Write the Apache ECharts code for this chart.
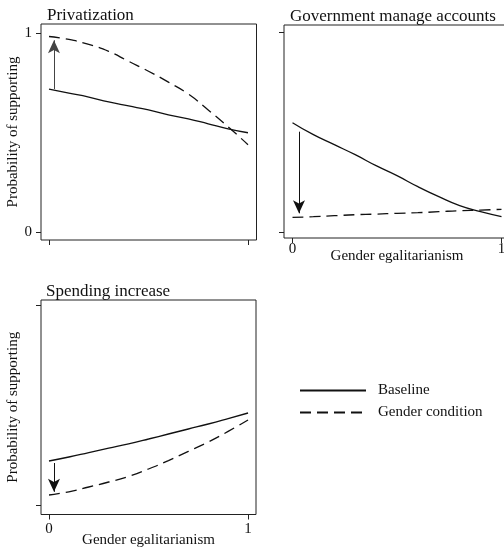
<!DOCTYPE html>
<html>
<head>
<meta charset="utf-8">
<script src="https://cdn.jsdelivr.net/npm/echarts@6/dist/echarts.min.js"></script>
<style>
html,body{margin:0;padding:0;background:#fff;}
#chart{width:504px;height:550px;}
</style>
</head>
<body>
<div id="chart"></div>
<script>
// ---- data ----
const xs = [0, 0.1, 0.2, 0.3, 0.4, 0.5, 0.6, 0.7, 0.8, 0.9, 1];
const panelTitles = ['Privatization', 'Government manage accounts', 'Spending increase'];
const seriesNames = ['Baseline', 'Gender condition'];
const privBase   = [0.72, 0.70, 0.68, 0.655, 0.635, 0.615, 0.59, 0.57, 0.545, 0.52, 0.50];
const privGender = [0.985, 0.97, 0.945, 0.91, 0.86, 0.81, 0.755, 0.695, 0.615, 0.53, 0.44];
const govBase    = [0.55, 0.49, 0.44, 0.39, 0.335, 0.285, 0.23, 0.18, 0.135, 0.105, 0.08];
const govGender  = [0.077, 0.08, 0.085, 0.09, 0.093, 0.097, 0.10, 0.105, 0.11, 0.113, 0.117];
const spendBase  = [0.22, 0.24, 0.262, 0.284, 0.306, 0.33, 0.355, 0.38, 0.405, 0.432, 0.46];
const spendGender= [0.05, 0.066, 0.09, 0.115, 0.143, 0.18, 0.222, 0.268, 0.315, 0.368, 0.425];
const arrowX    = [0.025, 0.031, 0.025];
const arrowFrom = [0.72, 0.505, 0.21];
const arrowTo   = [0.966, 0.097, 0.066];
const tickValues = [0, 1];
const tickLabels = ['0', '1'];
const yAxisTitle = 'Probability of supporting';
const xAxisTitle = 'Gender egalitarianism';

const FONT = "'Liberation Serif', 'DejaVu Serif', serif";
const INK = '#111';
const pair = arr => xs.map((x, i) => [x, arr[i]]);

const baseData = [privBase, govBase, spendBase];
const genderData = [privGender, govGender, spendGender];

const grids = [
  {left: 41, top: 24, width: 215.5, height: 216},
  {left: 284, top: 25, width: 226, height: 213},
  {left: 41, top: 300, width: 215, height: 214.5}
];
const xRanges = [[-0.0402, 1.0427], [-0.0407, 1.0407], [-0.0402, 1.040]];
const yRanges = [[-0.0403, 1.0479], [-0.0265, 1.0385], [-0.0475, 1.025]];
const showXLabels = [false, true, true];
const showYLabels = [true, false, false];
const showYName = [true, false, true];
const xLabelMargin = [3, 4, 7];
const xNameGap = [0, 11, 18];

const option = {
  animation: false,
  backgroundColor: '#fff',
  textStyle: {fontFamily: FONT, color: INK},
  title: [
    {text: panelTitles[0], left: 42, top: 2},
    {text: panelTitles[1], left: 285, top: 3},
    {text: panelTitles[2], left: 41, top: 278}
  ].map(t => Object.assign(t, {textStyle: {fontFamily: FONT, fontSize: 17, fontWeight: 'normal', color: INK}})),
  legend: {
    orient: 'vertical',
    left: 294, top: 378,
    itemWidth: 66, itemHeight: 10, itemGap: 7,
    itemStyle: {opacity: 0},
    textStyle: {fontFamily: FONT, fontSize: 15, color: INK, lineHeight: 15, padding: [0, 0, 0, 7]},
    data: seriesNames
  },
  grid: grids.map(g => Object.assign({show: true, borderColor: '#222', borderWidth: 1, backgroundColor: 'transparent', containLabel: false, outerBoundsMode: 'none'}, g)),
  xAxis: grids.map((g, i) => ({
    type: 'value', gridIndex: i,
    min: xRanges[i][0], max: xRanges[i][1],
    axisLine: {show: false, onZero: false},
    splitLine: {show: false},
    axisTick: {show: true, inside: false, length: 5, customValues: tickValues, lineStyle: {color: '#222'}},
    axisLabel: {show: showXLabels[i], customValues: tickValues, margin: xLabelMargin[i],
      formatter: v => tickLabels[tickValues.indexOf(v)] ?? '',
      fontFamily: FONT, fontSize: 15, color: INK},
    name: showXLabels[i] ? xAxisTitle : '',
    nameLocation: 'middle', nameGap: xNameGap[i], nameMoveOverlap: false,
    nameTextStyle: {fontFamily: FONT, fontSize: 15, color: INK}
  })),
  yAxis: grids.map((g, i) => ({
    type: 'value', gridIndex: i,
    min: yRanges[i][0], max: yRanges[i][1],
    axisLine: {show: false, onZero: false},
    splitLine: {show: false},
    axisTick: {show: true, inside: false, length: 5, customValues: tickValues, lineStyle: {color: '#222'}},
    axisLabel: {show: showYLabels[i], customValues: tickValues, margin: 9,
      formatter: v => tickLabels[tickValues.indexOf(v)] ?? '',
      fontFamily: FONT, fontSize: 15, color: INK},
    name: showYName[i] ? yAxisTitle : '',
    nameLocation: 'middle', nameRotate: 90, nameGap: 20, nameMoveOverlap: false,
    nameTextStyle: {fontFamily: FONT, fontSize: 15, color: INK}
  })),
  series: []
};

for (let i = 0; i < 3; i++) {
  option.series.push({
    name: seriesNames[0], type: 'line', xAxisIndex: i, yAxisIndex: i,
    data: pair(baseData[i]), smooth: true, symbol: 'none',
    lineStyle: {color: INK, width: 1.3, type: 'solid'},
    itemStyle: {color: INK},
    markLine: {
      silent: true, symbol: ['none', 'arrow'], symbolSize: [9, 13],
      label: {show: false},
      lineStyle: {color: i === 0 ? '#444' : INK, width: 1, type: 'solid'},
      itemStyle: {color: INK},
      data: [[{coord: [arrowX[i], arrowFrom[i]]}, {coord: [arrowX[i], arrowTo[i]]}]]
    }
  });
  option.series.push({
    name: seriesNames[1], type: 'line', xAxisIndex: i, yAxisIndex: i,
    data: pair(genderData[i]), smooth: true, symbol: 'none',
    lineStyle: {color: INK, width: 1.3, type: [11, 6]},
    itemStyle: {color: INK}
  });
}

const chart = echarts.init(document.getElementById('chart'), null, {renderer: 'canvas'});
chart.setOption(option);
</script>
</body>
</html>
